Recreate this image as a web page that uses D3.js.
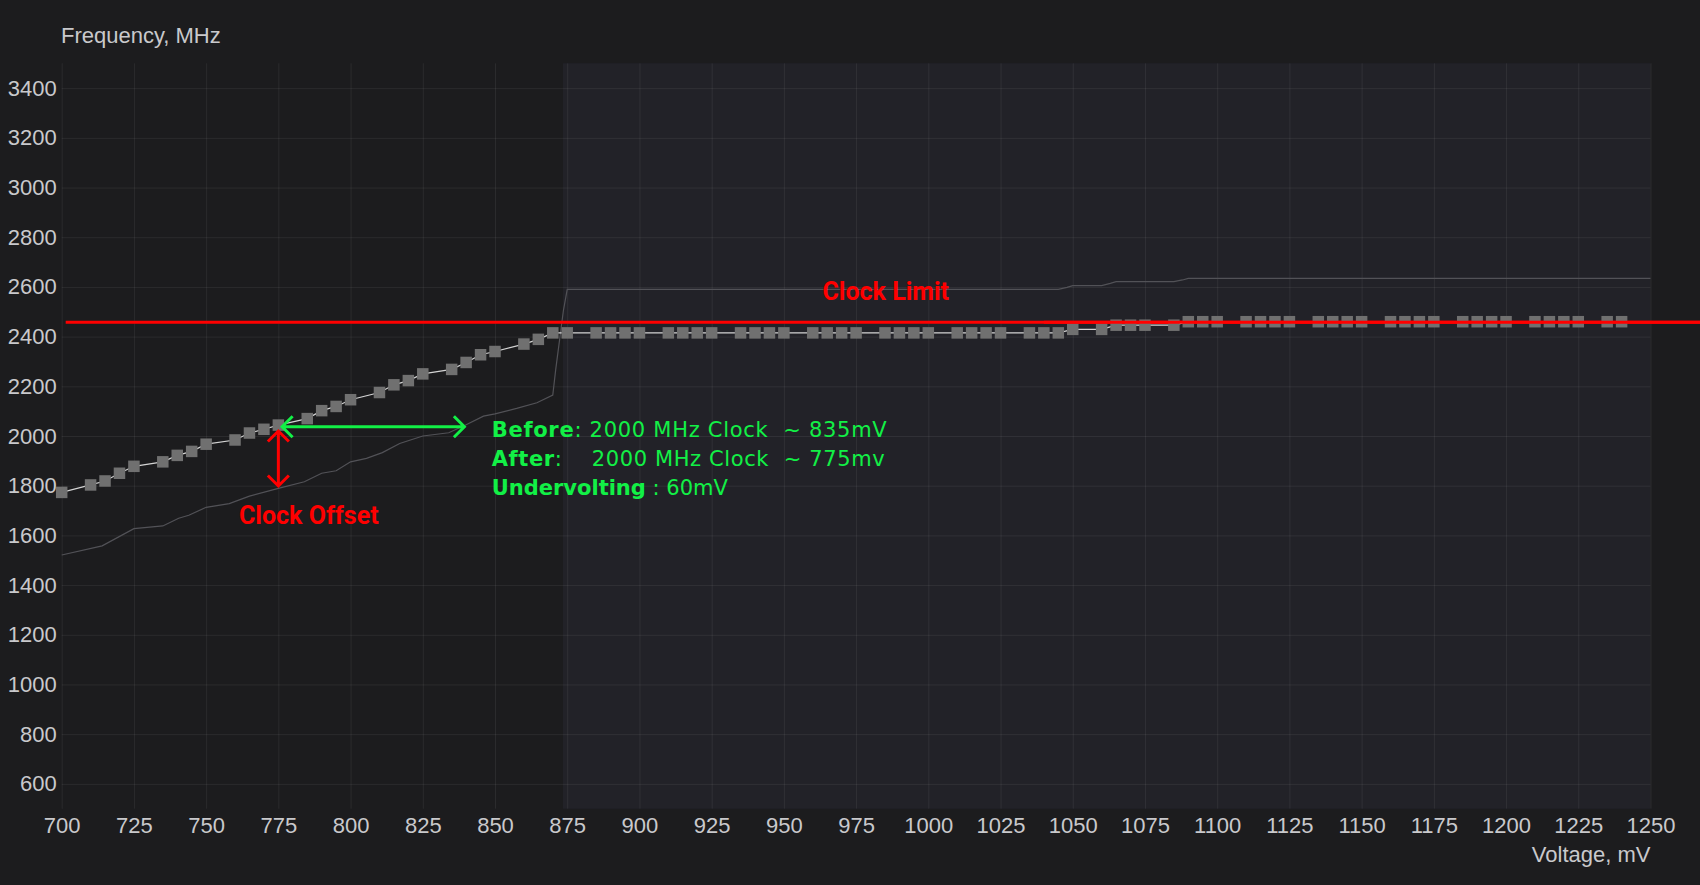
<!DOCTYPE html>
<html>
<head>
<meta charset="utf-8">
<script src="https://cdn.jsdelivr.net/npm/d3@7"></script>
<style>
  html, body { margin: 0; padding: 0; background: #1c1c1e; overflow: hidden; }
  .axis-label { font-family: "Liberation Sans", Arial, sans-serif; font-size: 22px; fill: #c9c9cc; }
  .note { font-family: Roboto, "Noto Sans", sans-serif; white-space: pre; }
  .note-green { font-family: "DejaVu Sans", Verdana, sans-serif; white-space: pre; }
</style>
</head>
<body>
<div class="vf-chart"></div>
<script>
// curve after undervolt (square markers)
const afterMv = [700, 710, 715, 720, 725, 735, 740, 745, 750, 760, 765, 770, 775, 785, 790, 795, 800,
  810, 815, 820, 825, 835, 840, 845, 850, 860, 865, 870, 875, 885, 890, 895, 900, 910, 915, 920, 925,
  935, 940, 945, 950, 960, 965, 970, 975, 985, 990, 995, 1000, 1010, 1015, 1020, 1025, 1035, 1040, 1045,
  1050, 1060, 1065, 1070, 1075, 1085, 1090, 1095, 1100, 1110, 1115, 1120, 1125, 1135, 1140, 1145, 1150,
  1160, 1165, 1170, 1175, 1185, 1190, 1195, 1200, 1210, 1215, 1220, 1225, 1235, 1240];
const afterMhz = [1773, 1803, 1819, 1850, 1878, 1896, 1922, 1938, 1967, 1984, 2012, 2027, 2044, 2070, 2102, 2119, 2146,
  2175, 2206, 2223, 2250, 2268, 2296, 2327, 2340, 2370, 2389, 2415, 2415, 2415, 2415, 2415, 2415, 2415, 2415, 2415, 2415,
  2415, 2415, 2415, 2415, 2415, 2415, 2415, 2415, 2415, 2415, 2415, 2415, 2415, 2415, 2415, 2415, 2415, 2415, 2415,
  2429, 2429, 2446, 2446, 2446, 2446, 2460, 2460, 2460, 2460, 2460, 2460, 2460, 2460, 2460, 2460, 2460,
  2460, 2460, 2460, 2460, 2460, 2460, 2460, 2460, 2460, 2460, 2460, 2460, 2460, 2460];

// stock curve (thin grey line)
const beforeMv = [700, 714, 725, 735, 740.5, 744, 750, 758, 765, 775, 784, 790, 795, 800, 805.5, 811, 817, 825, 834, 840,
  846, 850, 857.5, 864.5, 870, 871, 873.7, 875, 1045, 1048, 1050, 1060, 1063, 1065, 1085, 1088, 1090, 1250];
const beforeMhz = [1521, 1558, 1627, 1638, 1669, 1681, 1713, 1728, 1758, 1789, 1816, 1850, 1860, 1896, 1910, 1933, 1970, 2000, 2013, 2045,
  2080, 2089, 2111, 2134, 2165, 2266, 2507, 2590, 2590, 2598, 2605, 2605, 2614, 2621, 2621, 2628, 2634, 2634];

const xTicks = [700, 725, 750, 775, 800, 825, 850, 875, 900, 925, 950, 975, 1000, 1025, 1050, 1075, 1100, 1125, 1150, 1175, 1200, 1225, 1250];
const yTicks = [600, 800, 1000, 1200, 1400, 1600, 1800, 2000, 2200, 2400, 2600, 2800, 3000, 3200, 3400];

const clockLimitMhz = 2458;
const lockedFromMv = 873.5;
const noteLines = [
  ["Before", ": 2000 MHz Clock  ~ 835mV"],
  ["After", ":    2000 MHz Clock  ~ 775mv"],
  ["Undervolting", " : 60mV"]
];
const noteWidths = [395, 393, null];

const renderChart = container => {
  const width = 1700, height = 885;
  const left = 61.7, right = 1650.5, top = 63.3, bottom = 808.7;
  const green = "#12f046", red = "#ff0000";

  const svg = d3.select(container).append("svg")
    .attr("width", width)
    .attr("height", height);

  const x = d3.scaleLinear().domain([700, 1250]).range([left, right]);
  const y = d3.scaleLinear().domain([500, 3500]).range([bottom, top]);

  // locked region shading
  svg.append("rect")
    .attr("x", x(lockedFromMv))
    .attr("y", top)
    .attr("width", right - x(lockedFromMv))
    .attr("height", bottom - top)
    .attr("fill", "#222228");

  const styleAxis = g => {
    g.select(".domain").remove();
    g.selectAll(".tick line").attr("stroke", "rgba(255,255,255,0.065)");
    g.selectAll(".tick text")
      .attr("class", "axis-label")
      .attr("fill", null);
  };

  svg.append("g")
    .attr("transform", `translate(${left},0)`)
    .call(d3.axisLeft(y).tickValues(yTicks).tickSize(-(right - left)).tickPadding(5).tickFormat(d3.format("d")))
    .call(styleAxis);

  svg.append("g")
    .attr("transform", `translate(0,${bottom})`)
    .call(d3.axisBottom(x).tickValues(xTicks).tickSize(-(bottom - top)).tickPadding(8.5).tickFormat(d3.format("d")))
    .call(styleAxis);

  svg.append("text").attr("class", "axis-label")
    .attr("x", 61).attr("y", 43)
    .text("Frequency, MHz");
  svg.append("text").attr("class", "axis-label")
    .attr("x", right).attr("y", 862)
    .attr("text-anchor", "end")
    .text("Voltage, mV");

  const line = d3.line().x(d => x(d[0])).y(d => y(d[1]));

  // stock v/f curve
  svg.append("path")
    .datum(d3.zip(beforeMv, beforeMhz))
    .attr("fill", "none")
    .attr("stroke", "#525257")
    .attr("stroke-width", 1.2)
    .attr("d", line);

  // clock limit
  svg.append("line")
    .attr("x1", left + 4).attr("x2", width)
    .attr("y1", y(clockLimitMhz)).attr("y2", y(clockLimitMhz))
    .attr("stroke", red)
    .attr("stroke-width", 3);

  // undervolted curve
  const after = d3.zip(afterMv, afterMhz);
  svg.append("path")
    .datum(after)
    .attr("fill", "none")
    .attr("stroke", "#d4d4d4")
    .attr("stroke-width", 1.2)
    .attr("d", line);

  const sq = 11.5;
  svg.selectAll("rect.point")
    .data(after)
    .enter()
    .append("rect")
    .classed("point", true)
    .attr("x", d => x(d[0]) - sq / 2)
    .attr("y", d => y(d[1]) - sq / 2)
    .attr("width", sq)
    .attr("height", sq)
    .attr("fill", "#707070");

  // re-draw limit line over the markers it crosses
  svg.append("line")
    .attr("x1", x(1040)).attr("x2", width)
    .attr("y1", y(clockLimitMhz)).attr("y2", y(clockLimitMhz))
    .attr("stroke", red)
    .attr("stroke-width", 3);

  // arrows
  const head = 10.5;
  const gx1 = x(776.3), gx2 = x(839.4), gy = y(2037);
  svg.append("path")
    .attr("fill", "none")
    .attr("stroke", green)
    .attr("stroke-width", 3)
    .attr("d", `M${gx1},${gy}H${gx2}` +
      `M${gx1 + head},${gy - head}L${gx1},${gy}L${gx1 + head},${gy + head}` +
      `M${gx2 - head},${gy - head}L${gx2},${gy}L${gx2 - head},${gy + head}`);

  const rx = x(775), ry1 = y(2020), ry2 = y(1799);
  svg.append("path")
    .attr("fill", "none")
    .attr("stroke", red)
    .attr("stroke-width", 3)
    .attr("d", `M${rx},${ry1}V${ry2}` +
      `M${rx - head},${ry1 + head}L${rx},${ry1}L${rx + head},${ry1 + head}` +
      `M${rx - head},${ry2 - head}L${rx},${ry2}L${rx + head},${ry2 - head}`);

  svg.append("text").attr("class", "note")
    .attr("x", 822.5).attr("y", 299.5)
    .attr("font-size", 25).attr("font-weight", 700)
    .attr("fill", red)
    .text("Clock Limit");

  svg.append("text").attr("class", "note")
    .attr("x", 239).attr("y", 524)
    .attr("font-size", 25).attr("font-weight", 700)
    .attr("fill", red)
    .text("Clock Offset");

  // green summary, one text per line
  noteLines.forEach((l, i) => {
    const t = svg.append("text").attr("class", "note-green")
      .attr("x", 491.7).attr("y", 436.7 + i * 29.2)
      .attr("font-size", 21)
      .attr("fill", green);
    if (noteWidths[i]) {
      t.attr("textLength", noteWidths[i]).attr("lengthAdjust", "spacing");
    }
    t.append("tspan").attr("font-weight", 700).text(l[0]);
    t.append("tspan").text(l[1]);
  });
};

renderChart(".vf-chart");
</script>
</body>
</html>
